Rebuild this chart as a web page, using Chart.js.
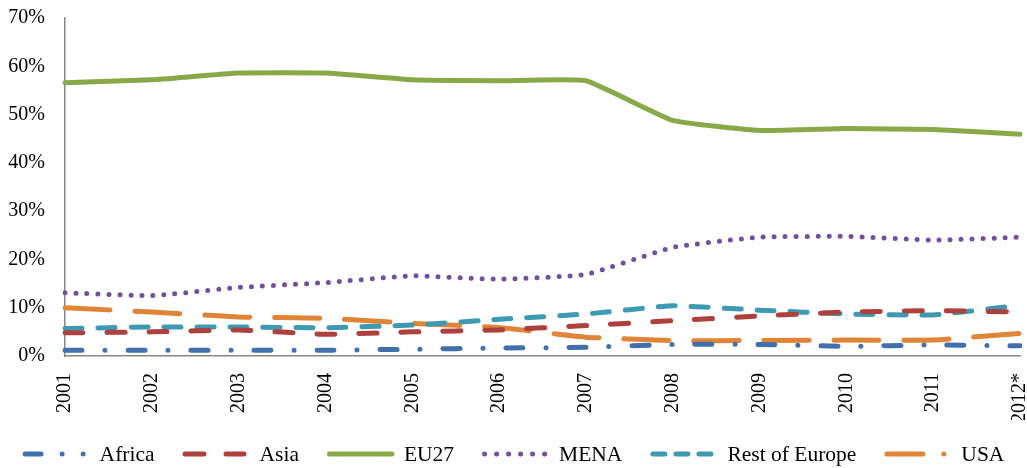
<!DOCTYPE html>
<html>
<head>
<meta charset="utf-8">
<script src="https://cdn.jsdelivr.net/npm/chart.js@4.4.0/dist/chart.umd.min.js"></script>
<style>
  html, body { margin: 0; padding: 0; background: #fff; }
  #wrap { width: 1027px; height: 468px; position: relative; }
</style>
</head>
<body>
<div id="wrap"><canvas id="c"></canvas></div>
<script>
const years = ['2001','2002','2003','2004','2005','2006','2007','2008','2009','2010','2011','2012*'];
const africa = [1.2, 1.2, 1.2, 1.2, 1.4, 1.65, 1.8, 2.4, 2.4, 2.0, 2.3, 2.1];
const asia = [4.8, 5.0, 5.4, 4.5, 5.0, 5.4, 6.3, 7.3, 8.3, 9.1, 9.4, 9.1];
const eu27 = [56.6, 57.2, 58.6, 58.6, 57.2, 57.0, 57.0, 48.8, 46.7, 47.1, 46.9, 45.9];
const mena = [13.1, 12.5, 14.2, 15.2, 16.6, 15.9, 16.9, 22.5, 24.6, 24.8, 24.0, 24.6];
const restOfEurope = [5.7, 6.0, 6.0, 5.85, 6.4, 7.6, 8.7, 10.4, 9.5, 8.7, 8.5, 10.5];
const usa = [10.0, 9.1, 8.1, 7.8, 6.75, 5.9, 3.9, 3.2, 3.2, 3.3, 3.3, 4.7];
const yTicks = [0, 10, 20, 30, 40, 50, 60, 70];

const FONT = "'Liberation Serif', 'Times New Roman', serif";

// Legend sample dash patterns (Excel-style compressed swatches)
const legendDash = {
  'Africa': [16, 21, 0, 21, 0, 100],
  'Asia': [19, 22, 18, 100],
  'EU27': [],
  'MENA': [0, 12],
  'Rest of Europe': [12, 11],
  'USA': [36, 21, 0, 100]
};

function ds(label, data, color, dash, width) {
  return {
    label, data,
    borderColor: color, backgroundColor: color,
    borderWidth: width, borderDash: dash, borderCapStyle: 'round',
    borderJoinStyle: 'round',
    pointRadius: 0, pointHoverRadius: 0, fill: false, tension: 0.12
  };
}

// Custom bottom legend drawn from dataset styles
const bottomLegend = {
  id: 'bottomLegend',
  afterDraw(chart) {
    const ctx = chart.ctx;
    const sample = 66, textGap = 11, itemGap = 28, yc = 454;
    ctx.save();
    ctx.font = '21.5px ' + FONT;
    const items = chart.data.datasets.map(d => ({ d, w: ctx.measureText(d.label).width }));
    const total = items.reduce((s, it) => s + sample + textGap + it.w, 0) + itemGap * (items.length - 1);
    let x = (chart.width - total) / 2;
    items.forEach(({ d, w }) => {
      ctx.save();
      ctx.strokeStyle = d.borderColor;
      ctx.lineWidth = d.borderWidth;
      ctx.lineCap = 'round';
      ctx.setLineDash(legendDash[d.label] || []);
      ctx.beginPath();
      ctx.moveTo(x + 2.5, yc);
      ctx.lineTo(x + sample - 1, yc);
      ctx.stroke();
      ctx.restore();
      ctx.fillStyle = '#000';
      ctx.textBaseline = 'middle';
      ctx.textAlign = 'left';
      ctx.fillText(d.label, x + sample + textGap, yc + 1);
      x += sample + textGap + w + itemGap;
    });
    ctx.restore();
  }
};

new Chart(document.getElementById('c'), {
  type: 'line',
  data: {
    labels: years,
    datasets: [
      ds('Africa', africa, '#4170ad', [17, 23, 0, 23], 5),
      ds('Asia', asia, '#ad413e', [18, 24], 5),
      ds('EU27', eu27, '#89a948', [], 5),
      ds('MENA', mena, '#70529c', [0, 11], 5),
      ds('Rest of Europe', restOfEurope, '#3d9ab2', [17, 16], 5),
      ds('USA', usa, '#e08437', [45, 25], 5)
    ]
  },
  plugins: [bottomLegend],
  options: {
    responsive: true,
    maintainAspectRatio: false,
    animation: false,
    layout: { padding: { left: 5, right: 7, top: 18, bottom: 48 } },
    plugins: {
      tooltip: { enabled: false },
      legend: { display: false }
    },
    scales: {
      x: {
        offset: false,
        grid: { display: false, drawTicks: false },
        border: { display: true, color: '#888', width: 1.5 },
        ticks: {
          minRotation: 90, maxRotation: 90, autoSkip: false,
          padding: 17,
          color: '#000',
          font: { family: FONT, size: 20 }
        },
        afterFit: (s) => { s.height = 64; s.paddingLeft = 0; s.paddingRight = 0; }
      },
      y: {
        min: 0, max: 70,
        afterBuildTicks: (s) => { s.ticks = yTicks.map(v => ({ value: v })); },
        grid: { display: false, drawTicks: false },
        border: { display: true, color: '#888', width: 1.5 },
        ticks: {
          padding: 20,
          color: '#000',
          font: { family: FONT, size: 20 },
          callback: (v) => v + '%'
        },
        afterFit: (s) => { s.width = 60; s.paddingTop = 0; s.paddingBottom = 0; }
      }
    }
  }
});
</script>
</body>
</html>
